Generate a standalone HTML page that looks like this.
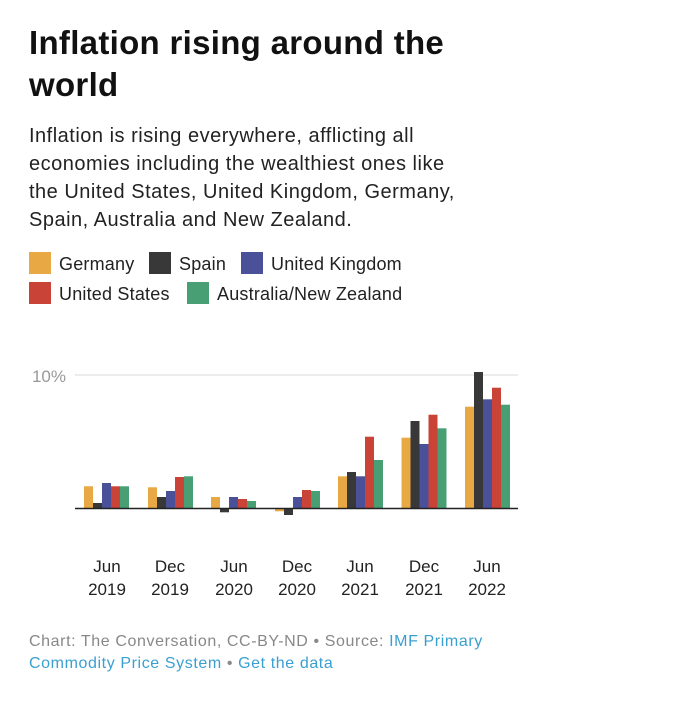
<!DOCTYPE html>
<html><head><meta charset="utf-8"><style>
body{margin:0;background:#fff;width:696px;height:709px;overflow:hidden;font-family:"Liberation Sans",sans-serif;color:#222;position:relative}
.t{position:absolute;left:29px;top:22px;font-size:33px;font-weight:bold;line-height:42px;width:500px;color:#111;letter-spacing:0.3px}
.s{position:absolute;left:29px;top:122px;font-size:20px;line-height:28px;width:600px;color:#222;letter-spacing:0.5px;white-space:nowrap}
.lg{position:absolute;font-size:18px;line-height:22px;color:#222;letter-spacing:0.2px}
.sq{position:absolute;width:22px;height:22px}
.f{position:absolute;left:29px;top:631px;font-size:16px;line-height:22px;color:#888;width:470px;letter-spacing:0.6px}
.f a{color:#3a9fd1;text-decoration:none}
</style></head><body>
<div class="t">Inflation rising around the world</div>
<div class="s">Inflation is rising everywhere, afflicting all<br>economies including the wealthiest ones like<br>the United States, United Kingdom, Germany,<br>Spain, Australia and New Zealand.</div>
<div class="sq" style="left:29px;top:252px;background:#e8a843"></div><div class="lg" style="left:59px;top:253px">Germany</div>
<div class="sq" style="left:149px;top:252px;background:#383838"></div><div class="lg" style="left:179px;top:253px">Spain</div>
<div class="sq" style="left:241px;top:252px;background:#4a5199"></div><div class="lg" style="left:271px;top:253px">United Kingdom</div>
<div class="sq" style="left:29px;top:282px;background:#c94337"></div><div class="lg" style="left:59px;top:283px">United States</div>
<div class="sq" style="left:187px;top:282px;background:#479f73"></div><div class="lg" style="left:217px;top:283px">Australia/New Zealand</div>
<svg style="position:absolute;left:0;top:0" width="696" height="709">
<line x1="75" y1="375" x2="518" y2="375" stroke="#e6e6e6" stroke-width="1.5"/>
<text x="66" y="382" text-anchor="end" font-size="17" fill="#999" font-family="Liberation Sans">10%</text>
<g id="bars"></g>
<line x1="75" y1="508.5" x2="518" y2="508.5" stroke="#222" stroke-width="1.5"/>
<g font-size="17" fill="#222" font-family="Liberation Sans" text-anchor="middle">
<text x="107" y="572">Jun</text><text x="107" y="595">2019</text>
<text x="170" y="572">Dec</text><text x="170" y="595">2019</text>
<text x="234" y="572">Jun</text><text x="234" y="595">2020</text>
<text x="297" y="572">Dec</text><text x="297" y="595">2020</text>
<text x="360" y="572">Jun</text><text x="360" y="595">2021</text>
<text x="424" y="572">Dec</text><text x="424" y="595">2021</text>
<text x="487" y="572">Jun</text><text x="487" y="595">2022</text>
</g>
</svg>
<div class="f">Chart: The Conversation, CC-BY-ND • Source: <a>IMF Primary Commodity Price System</a> • <a>Get the data</a></div>
<script>
var d=[[21.7,5,25,21.7,21.7],[20.7,11,17,31,31.7],[11,-4.3,11,9,7],[-3.3,-7,11,18,17],[31.7,36,31.7,71.3,48],[70.3,87,64,93.3,79.7],[101.3,136,108.7,120.3,103.3]];
var xs=[84,148,211,275,338,401.5,465],c=["#e8a843","#383838","#4a5199","#c94337","#479f73"],s="";
d.forEach(function(g,i){g.forEach(function(h,j){var x=xs[i]+j*9,y=h>=0?508-h:508,hh=Math.abs(h);s+='<rect x="'+x+'" y="'+y+'" width="9" height="'+hh+'" fill="'+c[j]+'"/>';});});
document.getElementById("bars").innerHTML=s;
</script>
</body></html>
